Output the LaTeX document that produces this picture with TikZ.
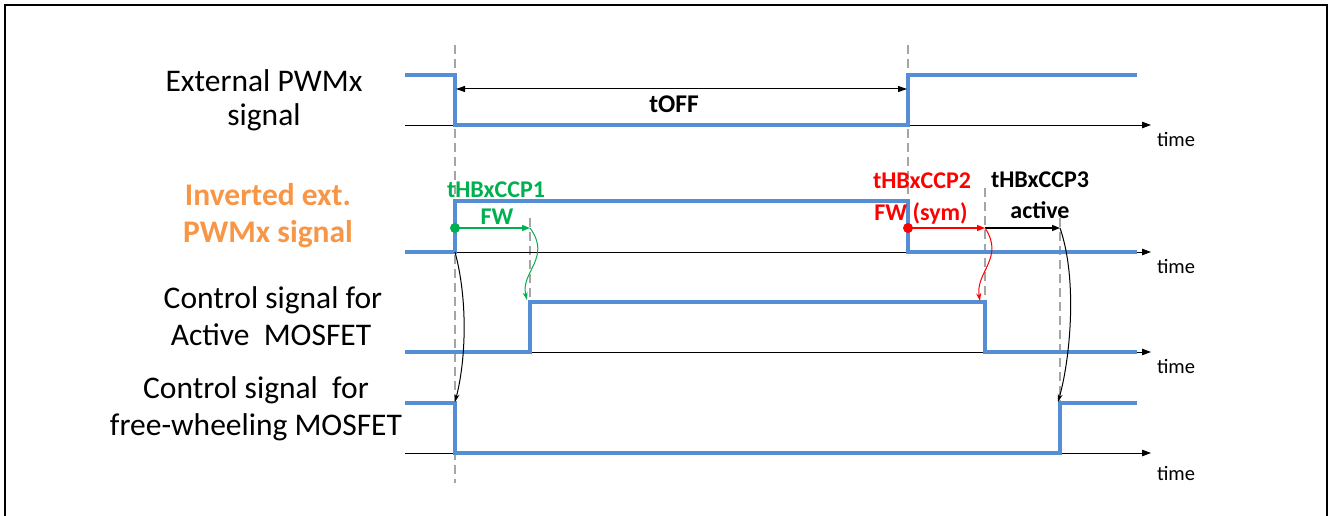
\documentclass[tikz,border=0pt]{standalone}
\usepackage{fontspec}
\setmainfont{Carlito}
\usetikzlibrary{arrows.meta}
\definecolor{sigblue}{RGB}{85,142,213}
\definecolor{dashgray}{RGB}{165,165,165}
\definecolor{invorange}{RGB}{247,150,70}
\definecolor{fwgreen}{RGB}{0,176,80}
\definecolor{symred}{RGB}{255,0,0}
\begin{document}
\begin{tikzpicture}[x=1pt,y=-1pt,
  sig/.style={sigblue,line width=3.6pt},
  axisline/.style={black,line width=0.9pt,-{Triangle[length=9pt,width=6.5pt]}},
  guide/.style={dashgray,line width=1.8pt,dash pattern=on 9pt off 5pt},
  lbl/.style={font=\fontsize{31.5}{36}\selectfont,anchor=base,inner sep=0pt},
  olbl/.style={font=\bfseries\fontsize{31.5}{36}\selectfont,text=invorange,anchor=base,inner sep=0pt},
  tlbl/.style={font=\fontsize{20.5}{24}\selectfont,anchor=base,inner sep=0pt},
  clbl/.style={font=\bfseries\fontsize{24}{28}\selectfont,anchor=base,inner sep=0pt},
  delay/.style={line width=1.1pt,-{Triangle[length=8pt,width=6pt]}},
  cause/.style={line width=1pt,-{Stealth[length=8pt,width=5pt]}},
  dot/.style={circle,fill,inner sep=0pt,minimum size=10pt}
]
\useasboundingbox (0,0) rectangle (1331,516);
\draw[line width=1.6pt] (5,520) -- (5,5) -- (1327,5) -- (1327,520);

% guides
\draw[guide] (455,45) -- (455,483);
\draw[guide] (908,45) -- (908,255);
\draw[guide] (530,218) -- (530,352);
\draw[guide] (985,188) -- (985,352);
\draw[guide] (1060,218) -- (1060,455);

% axes
\foreach \y/\n in {125/a1,252/a2,352/a3,453/a4}{
  \coordinate (\n s) at (405,\y);
  \coordinate (\n e) at (1151,\y);
  \draw[axisline] (\n s) -- (\n e);
}
\node[tlbl] (t1) at (1176,147) {time};
\node[tlbl] (t2) at (1176,273) {time};
\node[tlbl] (t3) at (1176,373) {time};
\node[tlbl] (t4) at (1176,480) {time};

% signals
\draw[sig] (405,75) -- (455,75) -- (455,125) -- (908,125) -- (908,75) -- (1137,75);
\draw[sig] (405,252) -- (455,252) -- (455,201) -- (908,201) -- (908,252) -- (1137,252);
\draw[sig] (405,352) -- (530,352) -- (530,302) -- (985,302) -- (985,352) -- (1137,352);
\draw[sig] (405,403) -- (455,403) -- (455,453) -- (1060,453) -- (1060,403) -- (1137,403);

% labels
\node[lbl] (l1a) at (264,92) {External PWMx};
\node[lbl] (l1b) at (264,126) {signal};
\node[olbl] (l2a) at (268,205) {Inverted ext.};
\node[olbl] (l2b) at (268,242) {PWMx signal};
\node[lbl] (l3a) at (273,308) {Control signal for};
\node[lbl] (l3b) at (271,345) {Active\ \ MOSFET};
\node[lbl] (l4a) at (256,398) {Control signal\ \ for};
\node[lbl] (l4b) at (256,435) {free-wheeling MOSFET};

% tOFF
\coordinate (off1) at (456,89);
\coordinate (off2) at (907,89);
\draw[line width=1pt,{Triangle[length=9pt,width=6pt]}-{Triangle[length=9pt,width=6pt]}] (off1) -- (off2);
\node[clbl,font=\bfseries\fontsize{25.5}{28}\selectfont] (toff) at (674,113) {tOFF};

% delay labels
\node[clbl,text=fwgreen] (c1) at (496,197) {tHBxCCP1};
\node[clbl,text=fwgreen] (c1b) at (497,224) {FW};
\node[clbl,text=symred] (c2) at (922,189) {tHBxCCP2};
\node[clbl,text=symred] (c2b) at (921,220) {FW (sym)};
\node[clbl] (c3) at (1040,188) {tHBxCCP3};
\node[clbl] (c3b) at (1040,218) {active};

% delay arrows
\node[dot,fill=fwgreen] (g0) at (455,228) {};
\coordinate (g1) at (530,228);
\draw[delay,fwgreen] (g0.center) -- (g1);
\node[dot,fill=symred] (r0) at (908,228) {};
\coordinate (r1) at (985,228);
\coordinate (b1) at (1060,228);
\draw[delay,symred] (r0.center) -- (r1);
\draw[delay,black] (r1) -- (b1);

% cause arrows
\coordinate (g2) at (527,300);
\coordinate (r2) at (980,301);
\draw[cause,fwgreen] (g1) .. controls (552,258) and (520,272) .. (g2);
\draw[cause,symred] (r1) .. controls (1005,258) and (975,272) .. (r2);
\coordinate (k0) at (455,252);
\coordinate (k1) at (455,402);
\draw[cause,black] (k0) .. controls (468,300) and (466,360) .. (k1);
\coordinate (k2) at (1058,402);
\draw[cause,black] (b1) .. controls (1078,280) and (1070,360) .. (k2);
\end{tikzpicture}
\end{document}
